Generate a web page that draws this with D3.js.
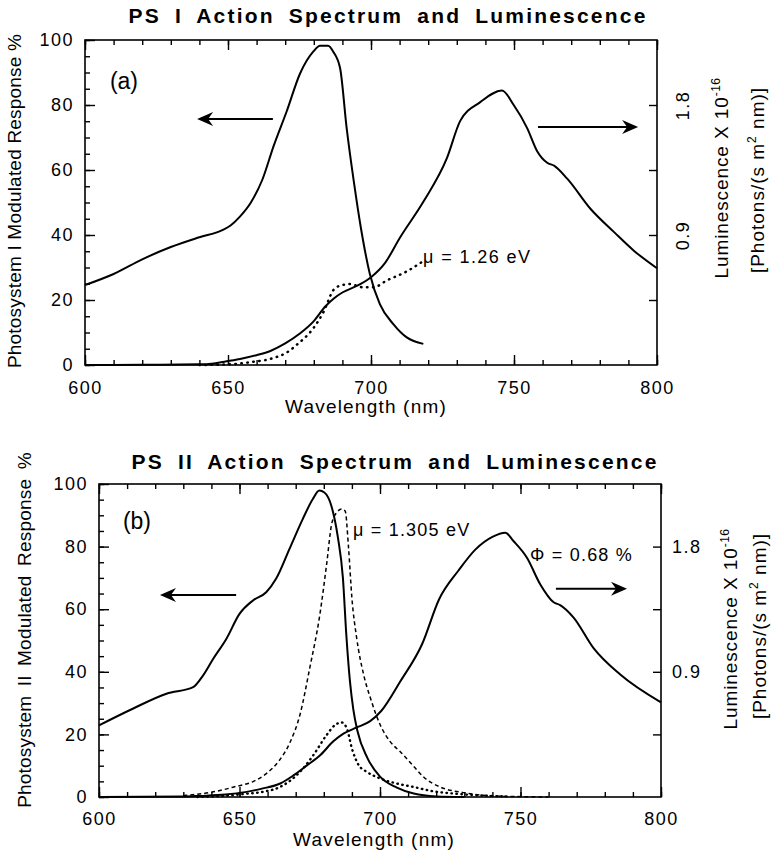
<!DOCTYPE html>
<html>
<head>
<meta charset="utf-8">
<script src="https://cdn.jsdelivr.net/npm/d3@7"></script>
<style>
  body { margin: 0; background: #fff; }
  svg { font-family: "Liberation Sans", Arial, Helvetica, sans-serif; }
</style>
</head>
<body>
<svg id="chart" width="774" height="857"></svg>
<script>
// ---------- tick values ----------
const xTicks = [600, 650, 700, 750, 800];
const xMinor = d3.range(600, 801, 10);
const yTicks = [0, 20, 40, 60, 80, 100];
const yMinor = d3.range(0, 101, 5);
const lumTicks = [0.45, 0.9, 1.35, 1.8];
const lumLabels = [0.9, 1.8];

// ---------- (a) PS I ----------
// action spectrum, % (left axis)
const wlActionA = [600, 610, 620, 630, 640, 648, 651, 654, 658, 662, 666, 670.5, 675.2, 679.8, 682.2, 685, 686.8, 689.2, 691.5, 694, 696.5, 699.6, 703.1, 707.8, 712.5, 718.3];
const actionA   = [24.6, 28, 32.5, 36.3, 39.3, 41.5, 43, 45.5, 50, 57, 67.5, 78, 89.7, 96.4, 98.2, 98.2, 96.4, 91.3, 72.8, 56.4, 42, 28, 18.7, 12.6, 8.5, 6.5];
// luminescence, 1e16 photons/(s m2 nm) (right axis)
const wlLumA = [600, 620, 640, 645, 650, 655, 660, 665, 670, 675, 680, 684, 687, 690, 695, 700, 705, 710, 718.3, 726.5, 731.2, 738.2, 745.8, 749.9, 754.6, 758.1, 761.6, 764, 768.6, 776.8, 785, 792, 800];
const lumA   = [0, 0.001, 0.0045, 0.011, 0.027, 0.045, 0.068, 0.099, 0.149, 0.216, 0.304, 0.405, 0.461, 0.502, 0.547, 0.608, 0.709, 0.878, 1.13, 1.43, 1.69, 1.82, 1.90, 1.80, 1.64, 1.48, 1.40, 1.38, 1.29, 1.08, 0.92, 0.79, 0.67];
// fit, mu = 1.26 eV, % (left axis)
const wlFitA = [640, 652, 659, 663.5, 666, 670.5, 674, 680, 683.5, 686.8, 689.2, 692.7, 697.3, 700.8, 705.5, 712.5, 718.3];
const fitA   = [0, 0.3, 1, 1.6, 2.2, 3.8, 6.2, 11.5, 16.5, 23, 24.4, 24.9, 23.9, 23.9, 26, 28.8, 32];

// ---------- (b) PS II ----------
const wlActionB = [600, 612, 624, 633.5, 637, 640.6, 645.3, 650, 654.8, 659.5, 663, 667.8, 672.5, 676.1, 678.4, 680.2, 682.7, 685, 686.8, 688, 689.3, 690.5, 692, 695.5, 700, 706, 712, 720, 730];
const actionB   = [22.9, 28.2, 33, 35.1, 38.8, 44.1, 50.5, 58.5, 62.8, 65.4, 69.7, 79.3, 88.8, 95.2, 97.9, 97.3, 93, 83, 70, 52, 37, 28, 21, 12.5, 6.5, 3, 1.1, 0.2, 0];
const wlLumB = [600, 630, 636, 645, 652, 658, 664.5, 669.2, 674, 678.7, 683.4, 687, 691.7, 696.5, 700.5, 707.2, 715, 721, 728, 734, 740, 744.6, 747.5, 752.3, 757, 761.8, 764.1, 768.9, 776, 785.5, 800];
const lumB   = [0, 0.003, 0.008, 0.018, 0.035, 0.06, 0.097, 0.155, 0.227, 0.30, 0.40, 0.455, 0.50, 0.545, 0.62, 0.83, 1.10, 1.42, 1.63, 1.78, 1.87, 1.90, 1.84, 1.72, 1.53, 1.40, 1.38, 1.29, 1.07, 0.88, 0.68];
// calculated spectrum, mu = 1.305 eV (dashed), %
const wlDashB = [630, 640, 648, 655, 660, 664, 668, 671.5, 675, 678.6, 681, 682.8, 684.6, 686.4, 687.6, 688.8, 690, 691.7, 694.2, 696.6, 700.1, 703.7, 707.3, 712, 716, 721.4, 729.6, 741.5, 760];
const dashB   = [0.5, 1.5, 3.2, 5, 7.8, 11.5, 17.5, 26.2, 41.2, 58.3, 74.3, 87.2, 90.9, 92, 91.4, 79.7, 63.6, 50.8, 39, 31.6, 23, 17.6, 14.4, 9.8, 6, 3.2, 1.4, 0.3, 0];
// dotted fit, %
const wlDotB = [635, 645, 652, 658, 664.4, 671.5, 676.3, 681, 684, 686.4, 688.2, 690, 692.4, 695.4, 700.1, 706, 712, 719.1, 726.2, 735.7, 745];
const dotB   = [0, 0.4, 1, 1.6, 3.2, 8, 13.4, 19.8, 23, 23.8, 21.9, 15.5, 10.2, 8, 5.9, 4.3, 3.2, 1.8, 1.1, 0.5, 0.2];

const svg = d3.select("#chart");

function drawPanel(p) {
    const g = svg.append("g");
    const x = d3.scaleLinear().domain([600, 800]).range([p.left, p.right]);
    const y = d3.scaleLinear().domain([0, 100]).range([p.bottom, p.top]);
    const yR = d3.scaleLinear().domain([0, 2.25]).range([p.bottom, p.top]);

    // frame
    g.append("rect")
        .attr("x", p.left).attr("y", p.top)
        .attr("width", p.right - p.left).attr("height", p.bottom - p.top)
        .attr("fill", "none").attr("stroke", "#000").attr("stroke-width", 1.6);

    function styleAxis(sel) {
        sel.attr("font-family", null).attr("font-size", null);
        sel.select(".domain").remove();
        sel.selectAll("line").attr("stroke-width", 1.4);
        sel.selectAll("text")
            .style("font-size", "18px")
            .style("letter-spacing", "1.5px");
    }

    // bottom / top ticks
    g.append("g").attr("transform", "translate(0," + p.bottom + ")")
        .call(d3.axisBottom(x).tickValues(xTicks).tickSize(-10).tickPadding(p.xPad).tickFormat(d3.format("d")))
        .call(styleAxis);
    g.append("g").attr("transform", "translate(0," + p.bottom + ")")
        .call(d3.axisBottom(x).tickValues(xMinor).tickSize(-5).tickFormat(""))
        .call(styleAxis);
    g.append("g").attr("transform", "translate(0," + p.top + ")")
        .call(d3.axisTop(x).tickValues(xTicks).tickSize(-10).tickFormat(""))
        .call(styleAxis);
    g.append("g").attr("transform", "translate(0," + p.top + ")")
        .call(d3.axisTop(x).tickValues(xMinor).tickSize(-5).tickFormat(""))
        .call(styleAxis);

    // left ticks
    g.append("g").attr("transform", "translate(" + p.left + ",0)")
        .call(d3.axisLeft(y).tickValues(yTicks).tickSize(-10).tickPadding(11))
        .call(styleAxis);
    g.append("g").attr("transform", "translate(" + p.left + ",0)")
        .call(d3.axisLeft(y).tickValues(yMinor).tickSize(-5).tickFormat(""))
        .call(styleAxis);

    // right (luminescence) ticks
    const right = g.append("g").attr("transform", "translate(" + p.right + ",0)")
        .call(d3.axisRight(yR).tickValues(lumTicks).tickSize(-8).tickPadding(11)
            .tickFormat(d => lumLabels.includes(d) ? d3.format(".1f")(d) : ""))
        .call(styleAxis);
    if (p.rotateRight) {
        right.selectAll("text")
            .attr("x", null).attr("dy", null)
            .attr("text-anchor", "middle")
            .attr("transform", "translate(32,0) rotate(-90)");
    }

    // curves
    const line = (sx, sy) => d3.line().x(d => sx(d[0])).y(d => sy(d[1])).curve(d3.curveMonotoneX);
    p.series.forEach(s => {
        g.append("path")
            .datum(d3.zip(s.wl, s.v))
            .attr("fill", "none")
            .attr("stroke", "#000")
            .attr("stroke-width", s.width)
            .attr("stroke-dasharray", s.dash)
            .attr("stroke-linecap", s.cap || "butt")
            .attr("stroke-linejoin", "round")
            .attr("d", line(x, s.axis === "right" ? yR : y));
    });

    // arrows
    p.arrows.forEach(a => {
        const x1 = x(a.from), x2 = x(a.to), yy = y(a.at);
        const dir = x2 > x1 ? 1 : -1;
        g.append("line")
            .attr("x1", x1).attr("x2", x2 - dir * 8).attr("y1", yy).attr("y2", yy)
            .attr("stroke", "#000").attr("stroke-width", 2);
        g.append("path")
            .attr("d", "M" + x2 + "," + yy +
                "L" + (x2 - dir * 16) + "," + (yy - 7) +
                "L" + (x2 - dir * 11) + "," + yy +
                "L" + (x2 - dir * 16) + "," + (yy + 7) + "Z")
            .attr("fill", "#000");
    });

    // texts inside plot
    p.notes.forEach(n => {
        g.append("text")
            .attr("x", x(n.wl)).attr("y", y(n.v))
            .style("font-size", n.size + "px")
            .style("letter-spacing", (n.ls || 0) + "px")
            .text(n.text);
    });

    // title
    g.append("text")
        .attr("x", p.titleX).attr("y", p.titleY)
        .attr("text-anchor", "middle")
        .style("font-size", "21px").style("font-weight", "bold")
        .style("letter-spacing", "2.2px").style("word-spacing", "6px")
        .text(p.title);

    // x label
    g.append("text")
        .attr("x", p.xLabelX).attr("y", p.xLabelY)
        .attr("text-anchor", "middle")
        .style("font-size", "19px").style("letter-spacing", "1.2px")
        .text("Wavelength (nm)");

    // left label
    g.append("text")
        .attr("transform", "translate(" + p.yLabelX + "," + p.yLabelCy + ") rotate(-90)")
        .attr("text-anchor", "middle")
        .style("font-size", "19px").style("letter-spacing", "0.2px")
        .style("word-spacing", p.yWordSpacing + "px")
        .text(p.yLabel);

    // right labels
    const r1 = g.append("text")
        .attr("transform", "translate(" + p.rLabelX1 + "," + p.rLabelCy1 + ") rotate(-90)")
        .attr("text-anchor", "middle")
        .style("font-size", "19px").style("letter-spacing", "0.9px");
    r1.append("tspan").text("Luminescence X 10");
    r1.append("tspan").attr("dy", -8).style("font-size", "12px").style("letter-spacing", "0.5px").text("-16");

    const r2 = g.append("text")
        .attr("transform", "translate(" + p.rLabelX2 + "," + p.rLabelCy2 + ") rotate(-90)")
        .attr("text-anchor", "middle")
        .style("font-size", "19px").style("letter-spacing", "1px");
    r2.append("tspan").text("[Photons/(s m");
    r2.append("tspan").attr("dy", -8).style("font-size", "12px").text("2");
    r2.append("tspan").attr("dy", 8).text(" nm)]");
}

drawPanel({
    left: 85, right: 657, top: 40, bottom: 365, xPad: 16,
    rotateRight: true,
    title: "PS I Action Spectrum and Luminescence", titleX: 388, titleY: 23,
    xLabelX: 366, xLabelY: 413,
    yLabel: "Photosystem I Modulated Response %", yLabelX: 21, yLabelCy: 201, yWordSpacing: 0,
    rLabelX1: 728, rLabelCy1: 178, rLabelX2: 764, rLabelCy2: 180,
    series: [
        { wl: wlActionA, v: actionA, width: 2, dash: null },
        { wl: wlLumA, v: lumA, width: 2, dash: null, axis: "right" },
        { wl: wlFitA, v: fitA, width: 2.5, dash: "0.5,5.5", cap: "round" }
    ],
    arrows: [
        { from: 665.7, to: 639.2, at: 75.7 },
        { from: 758.4, to: 793.4, at: 73.2 }
    ],
    notes: [
        { text: "(a)", wl: 608.7, v: 85, size: 23 },
        { text: "\u03bc = 1.26 eV", wl: 718.2, v: 31.4, size: 18, ls: 1.4 }
    ]
});

drawPanel({
    left: 99, right: 661, top: 484, bottom: 797, xPad: 15,
    rotateRight: false,
    title: "PS II Action Spectrum and Luminescence", titleX: 395, titleY: 469,
    xLabelX: 374, xLabelY: 846,
    yLabel: "Photosystem II Modulated Response %", yLabelX: 31, yLabelCy: 630, yWordSpacing: 4,
    rLabelX1: 737, rLabelCy1: 629, rLabelX2: 766, rLabelCy2: 626,
    series: [
        { wl: wlActionB, v: actionB, width: 2, dash: null },
        { wl: wlLumB, v: lumB, width: 2, dash: null, axis: "right" },
        { wl: wlDashB, v: dashB, width: 1.5, dash: "4,3" },
        { wl: wlDotB, v: dotB, width: 2.4, dash: "0.5,4.5", cap: "round" }
    ],
    arrows: [
        { from: 648.8, to: 621.7, at: 64.5 },
        { from: 762.6, to: 787.9, at: 66.5 }
    ],
    notes: [
        { text: "(b)", wl: 608.5, v: 85.6, size: 23 },
        { text: "\u03bc = 1.305 eV", wl: 690.4, v: 83.4, size: 18, ls: 1.2 },
        { text: "\u03a6 = 0.68 %", wl: 753.4, v: 75.4, size: 18, ls: 1.2 }
    ]
});
</script>
</body>
</html>
